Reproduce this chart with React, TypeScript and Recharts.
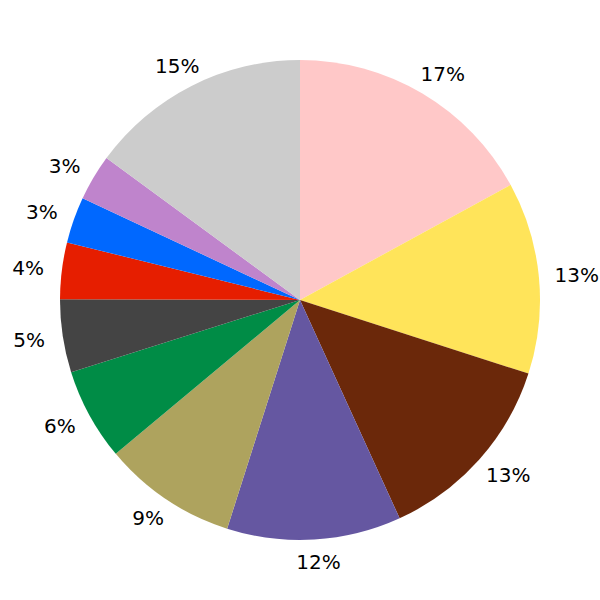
import React from "react";
import { PieChart, Pie, Cell } from "recharts";

const categories = ["A", "B", "C", "D", "E", "F", "G", "H", "I", "J", "K"];
const values = [17.0, 12.9, 13.2, 11.7, 9.0, 6.2, 4.9, 3.8, 3.1, 3.1, 14.9];
const colors = [
  "#FFC8C8",
  "#FFE45A",
  "#6B280A",
  "#6557A1",
  "#AEA35E",
  "#008C46",
  "#444444",
  "#E61E00",
  "#0068FF",
  "#BF84CC",
  "#CCCCCC",
];

const data = categories.map((name, i) => ({ name, value: values[i] }));

const RAD = Math.PI / 180;

const renderLabel = (props: any) => {
  const { cx, cy, midAngle, outerRadius, percent } = props;
  const rx = outerRadius * 1.15;
  const ry = outerRadius * 1.095;
  const x = cx + rx * Math.cos(-midAngle * RAD) + 2;
  const y = cy + ry * Math.sin(-midAngle * RAD);
  return (
    <text
      x={x}
      y={y}
      fill="#000"
      textAnchor="middle"
      dominantBaseline="central"
      fontFamily="DejaVu Sans"
      fontSize={20}
    >
      {`${Math.round(percent * 100)}%`}
    </text>
  );
};

export default function App() {
  return (
    <div style={{ position: "absolute", left: 0, top: 0, background: "#fff" }}>
      <PieChart
        width={600}
        height={600}
        margin={{ top: 0, right: 0, bottom: 0, left: 0 }}
      >
        <Pie
          data={data}
          dataKey="value"
          nameKey="name"
          cx={300}
          cy={300}
          outerRadius={240}
          startAngle={90}
          endAngle={-270}
          stroke="none"
          label={renderLabel}
          labelLine={false}
          isAnimationActive={false}
        >
          {data.map((d, i) => (
            <Cell key={d.name} fill={colors[i]} />
          ))}
        </Pie>
      </PieChart>
    </div>
  );
}
